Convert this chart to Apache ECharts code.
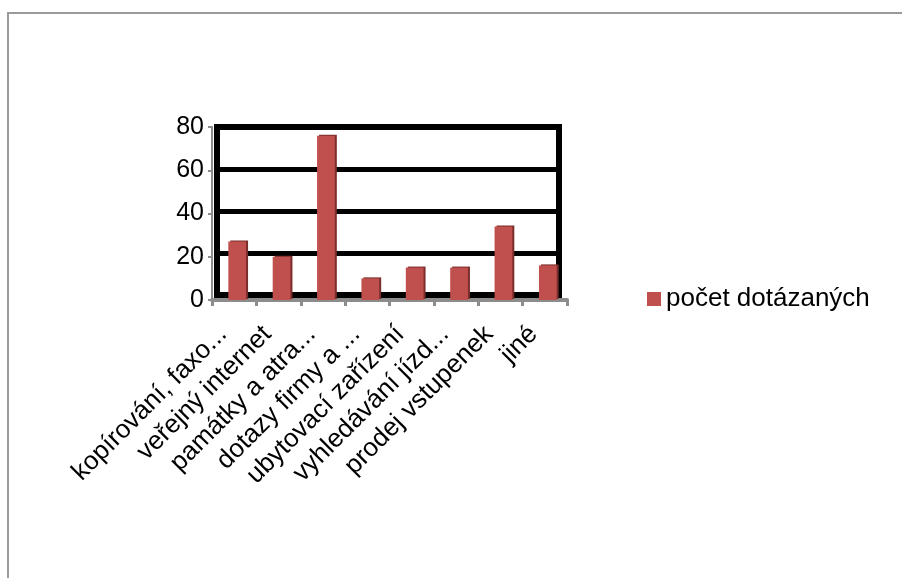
<!DOCTYPE html>
<html>
<head>
<meta charset="utf-8">
<script src="https://cdn.jsdelivr.net/npm/echarts@6/dist/echarts.min.js"></script>
<style>
  html, body { margin: 0; padding: 0; background: #fff; }
  #frame { position: absolute; left: 7px; top: 12px; right: 0; bottom: 0;
           border-left: 2px solid #9a9a9a; border-top: 2px solid #9a9a9a; }
  #chart { position: absolute; left: 0; top: 0; width: 902px; height: 578px; }
</style>
</head>
<body>
<div id="frame"></div>
<div id="chart"></div>
<script>
// Services requested by respondents
const categories = [
  'kopírování, faxo...',
  'veřejný internet',
  'památky a atra...',
  'dotazy firmy a ...',
  'ubytovací zařízení',
  'vyhledávání jízd...',
  'prodej vstupenek',
  'jiné'
];
const counts = [27, 20, 76, 10, 15, 15, 34, 16];
const seriesName = 'počet dotázaných';
const yMin = 0, yMax = 80, yStep = 20;

const FONT = 'Liberation Sans, Arial, sans-serif';
const AXIS_GREY = '#8c8c8c';
const FONT_SIZE = 26;

const chart = echarts.init(document.getElementById('chart'), null, { renderer: 'canvas' });

const hiddenValueAxis = (gridIndex) => ({
  type: 'value', gridIndex, min: yMin, max: yMax, interval: yStep, show: false,
  splitLine: { show: false }
});

chart.setOption({
  backgroundColor: 'transparent',
  animation: false,
  textStyle: { fontFamily: FONT },
  grid: [
    // back wall with heavy black gridlines
    { left: 217, top: 127, width: 342, height: 168, show: true,
      borderColor: '#000', borderWidth: 6, backgroundColor: 'transparent' },
    // front plane with the grey axes and labels
    { left: 212, top: 127, width: 355, height: 173 },
    // bars, nudged slightly right for the depth effect
    { left: 215, top: 127, width: 355, height: 173 }
  ],
  xAxis: [
    { type: 'category', gridIndex: 0, data: categories, show: false },
    {
      type: 'category', gridIndex: 1, data: categories,
      axisLine: { show: true, lineStyle: { color: AXIS_GREY, width: 4 } },
      axisTick: { show: true, length: 6, lineStyle: { color: AXIS_GREY, width: 3 } },
      axisLabel: { interval: 0, rotate: 45, margin: 19, color: '#000',
                   fontSize: FONT_SIZE, fontFamily: FONT, padding: [0, 16, 0, 0] },
      splitLine: { show: false }
    },
    { type: 'category', gridIndex: 2, data: categories, show: false }
  ],
  yAxis: [
    {
      type: 'value', gridIndex: 0, min: yMin, max: yMax, interval: yStep,
      axisLine: { show: false }, axisTick: { show: false }, axisLabel: { show: false },
      splitLine: { show: true, lineStyle: { color: '#000', width: 5 } }
    },
    {
      type: 'value', gridIndex: 1, min: yMin, max: yMax, interval: yStep,
      axisLine: { show: true, lineStyle: { color: AXIS_GREY, width: 2 } },
      axisTick: { show: true, length: 4, lineStyle: { color: AXIS_GREY, width: 2 } },
      axisLabel: { margin: 8, color: '#000', fontSize: 25, fontFamily: FONT },
      splitLine: { show: false }
    },
    hiddenValueAxis(2)
  ],
  legend: {
    left: 642, top: 281, orient: 'vertical',
    icon: 'rect', itemWidth: 14, itemHeight: 14, itemGap: 6,
    textStyle: { color: '#000', fontSize: 26, fontFamily: FONT },
    data: [seriesName]
  },
  series: [{
    name: seriesName,
    type: 'bar',
    xAxisIndex: 2, yAxisIndex: 2,
    data: counts,
    barWidth: '40%',
    itemStyle: {
      color: '#c0504d',
      shadowColor: '#7a2d2b', shadowOffsetX: 2, shadowOffsetY: -1, shadowBlur: 0
    }
  }]
});
</script>
</body>
</html>
